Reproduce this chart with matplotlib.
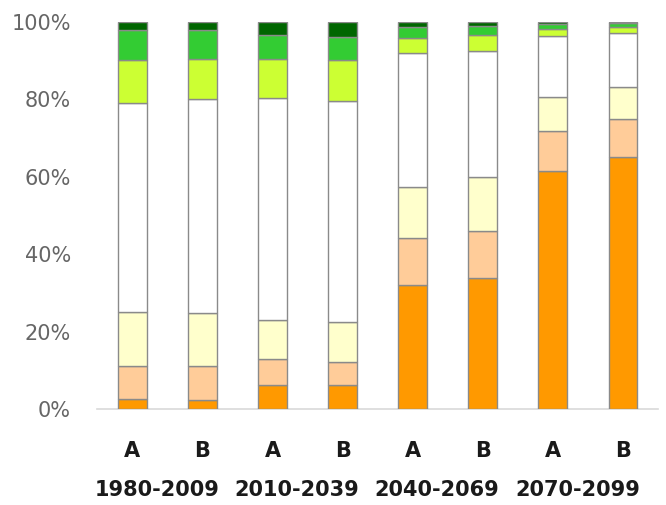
import numpy as np
import matplotlib
matplotlib.use("Agg")
import matplotlib.pyplot as plt

# scenario / period labels
scenarios = ["A", "B", "A", "B", "A", "B", "A", "B"]
periods = ["1980-2009", "2010-2039", "2040-2069", "2070-2099"]

# segment heights in percent, bottom to top
orange = [2.5, 2.3, 6.2, 6.2, 32.0, 33.9, 61.5, 65.1]
peach = [8.6, 8.8, 6.7, 6.0, 12.1, 12.1, 10.3, 9.9]
light_yellow = [13.9, 13.6, 10.1, 10.3, 13.3, 14.0, 8.8, 8.2]
white = [53.9, 55.3, 57.4, 57.0, 34.4, 32.4, 15.7, 13.8]
yellow_green = [11.1, 10.4, 10.0, 10.5, 3.9, 4.1, 1.8, 1.6]
green = [7.8, 7.5, 6.1, 6.1, 2.9, 2.4, 1.3, 1.0]
dark_green = [2.2, 2.1, 3.5, 3.9, 1.4, 1.1, 0.6, 0.4]

series = [orange, peach, light_yellow, white, yellow_green, green, dark_green]
colors = ["#ff9900", "#ffcc99", "#ffffcc", "#ffffff", "#ccff33", "#33cc33", "#006600"]

fig = plt.figure(figsize=(6.66, 5.05), dpi=100)
ax = fig.add_axes([0.146, 0.19, 0.842, 0.767])

x = np.arange(len(scenarios))
bottom = np.zeros(len(scenarios))
for vals, col in zip(series, colors):
    ax.bar(x, vals, width=0.41, bottom=bottom, color=col,
           edgecolor="#8a8a8a", linewidth=1.0, zorder=3)
    bottom += np.array(vals)

ax.set_xlim(-0.5, 7.5)
ax.set_ylim(0, 100)
ax.set_yticks([0, 20, 40, 60, 80, 100])
ax.set_yticklabels([f"{v}%" for v in [0, 20, 40, 60, 80, 100]])
ax.tick_params(axis="y", length=0, pad=19, labelsize=15, labelcolor="#666666")

ax.set_xticks(x)
ax.set_xticklabels(scenarios, fontweight="bold")
ax.tick_params(axis="x", length=0, pad=23, labelsize=15, labelcolor="#1a1a1a")

for s in ["top", "right", "left"]:
    ax.spines[s].set_visible(False)
ax.spines["bottom"].set_color("#d9d9d9")
ax.spines["bottom"].set_linewidth(1.2)

trans = ax.get_xaxis_transform()
for i, p in enumerate(periods):
    ax.text(2 * i + 0.5 - 0.15, -0.21, p, transform=trans, ha="center", va="center",
            fontsize=15, fontweight="bold", color="#1a1a1a")

fig.savefig("out.png", dpi=100)
